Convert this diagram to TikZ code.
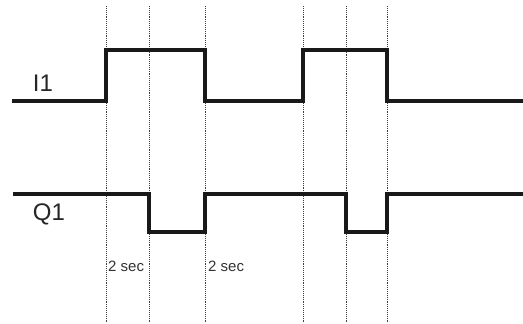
\documentclass[tikz,border=0pt]{standalone}
\usepackage{fontspec}
\setmainfont{Liberation Sans}
\begin{document}
\begin{tikzpicture}[x=1pt,y=-1pt,
  trace/.style={line width=3.8pt,black!90,line join=miter},
  guide/.style={densely dotted,line width=0.9pt,black!75},
  siglabel/.style={font=\fontsize{24}{26}\selectfont,inner sep=0pt,text=black!85},
  timelabel/.style={font=\fontsize{15}{17}\selectfont,inner sep=0pt,anchor=west,text=black!80}]
\useasboundingbox[fill=white] (0,0) rectangle (523,324);
% guide lines
\foreach \x in {106,149,205,303,346,387}
  \draw[guide] (\x,6) -- (\x,322);
% I1 trace
\draw[trace] (12,101) -- (106,101) -- (106,50) -- (205,50) -- (205,101)
  -- (303,101) -- (303,50) -- (387,50) -- (387,101) -- (523,101);
% Q1 trace
\draw[trace] (13,194) -- (149,194) -- (149,232) -- (205,232) -- (205,194)
  -- (346,194) -- (346,232) -- (387,232) -- (387,194) -- (523,194);
\node[siglabel] (i1) at (43,83) {I1};
\node[siglabel] (q1) at (49,214) {Q1};
\node[timelabel] (t1) at (108,266) {2 sec};
\node[timelabel] (t2) at (208,266) {2 sec};
\end{tikzpicture}
\end{document}
